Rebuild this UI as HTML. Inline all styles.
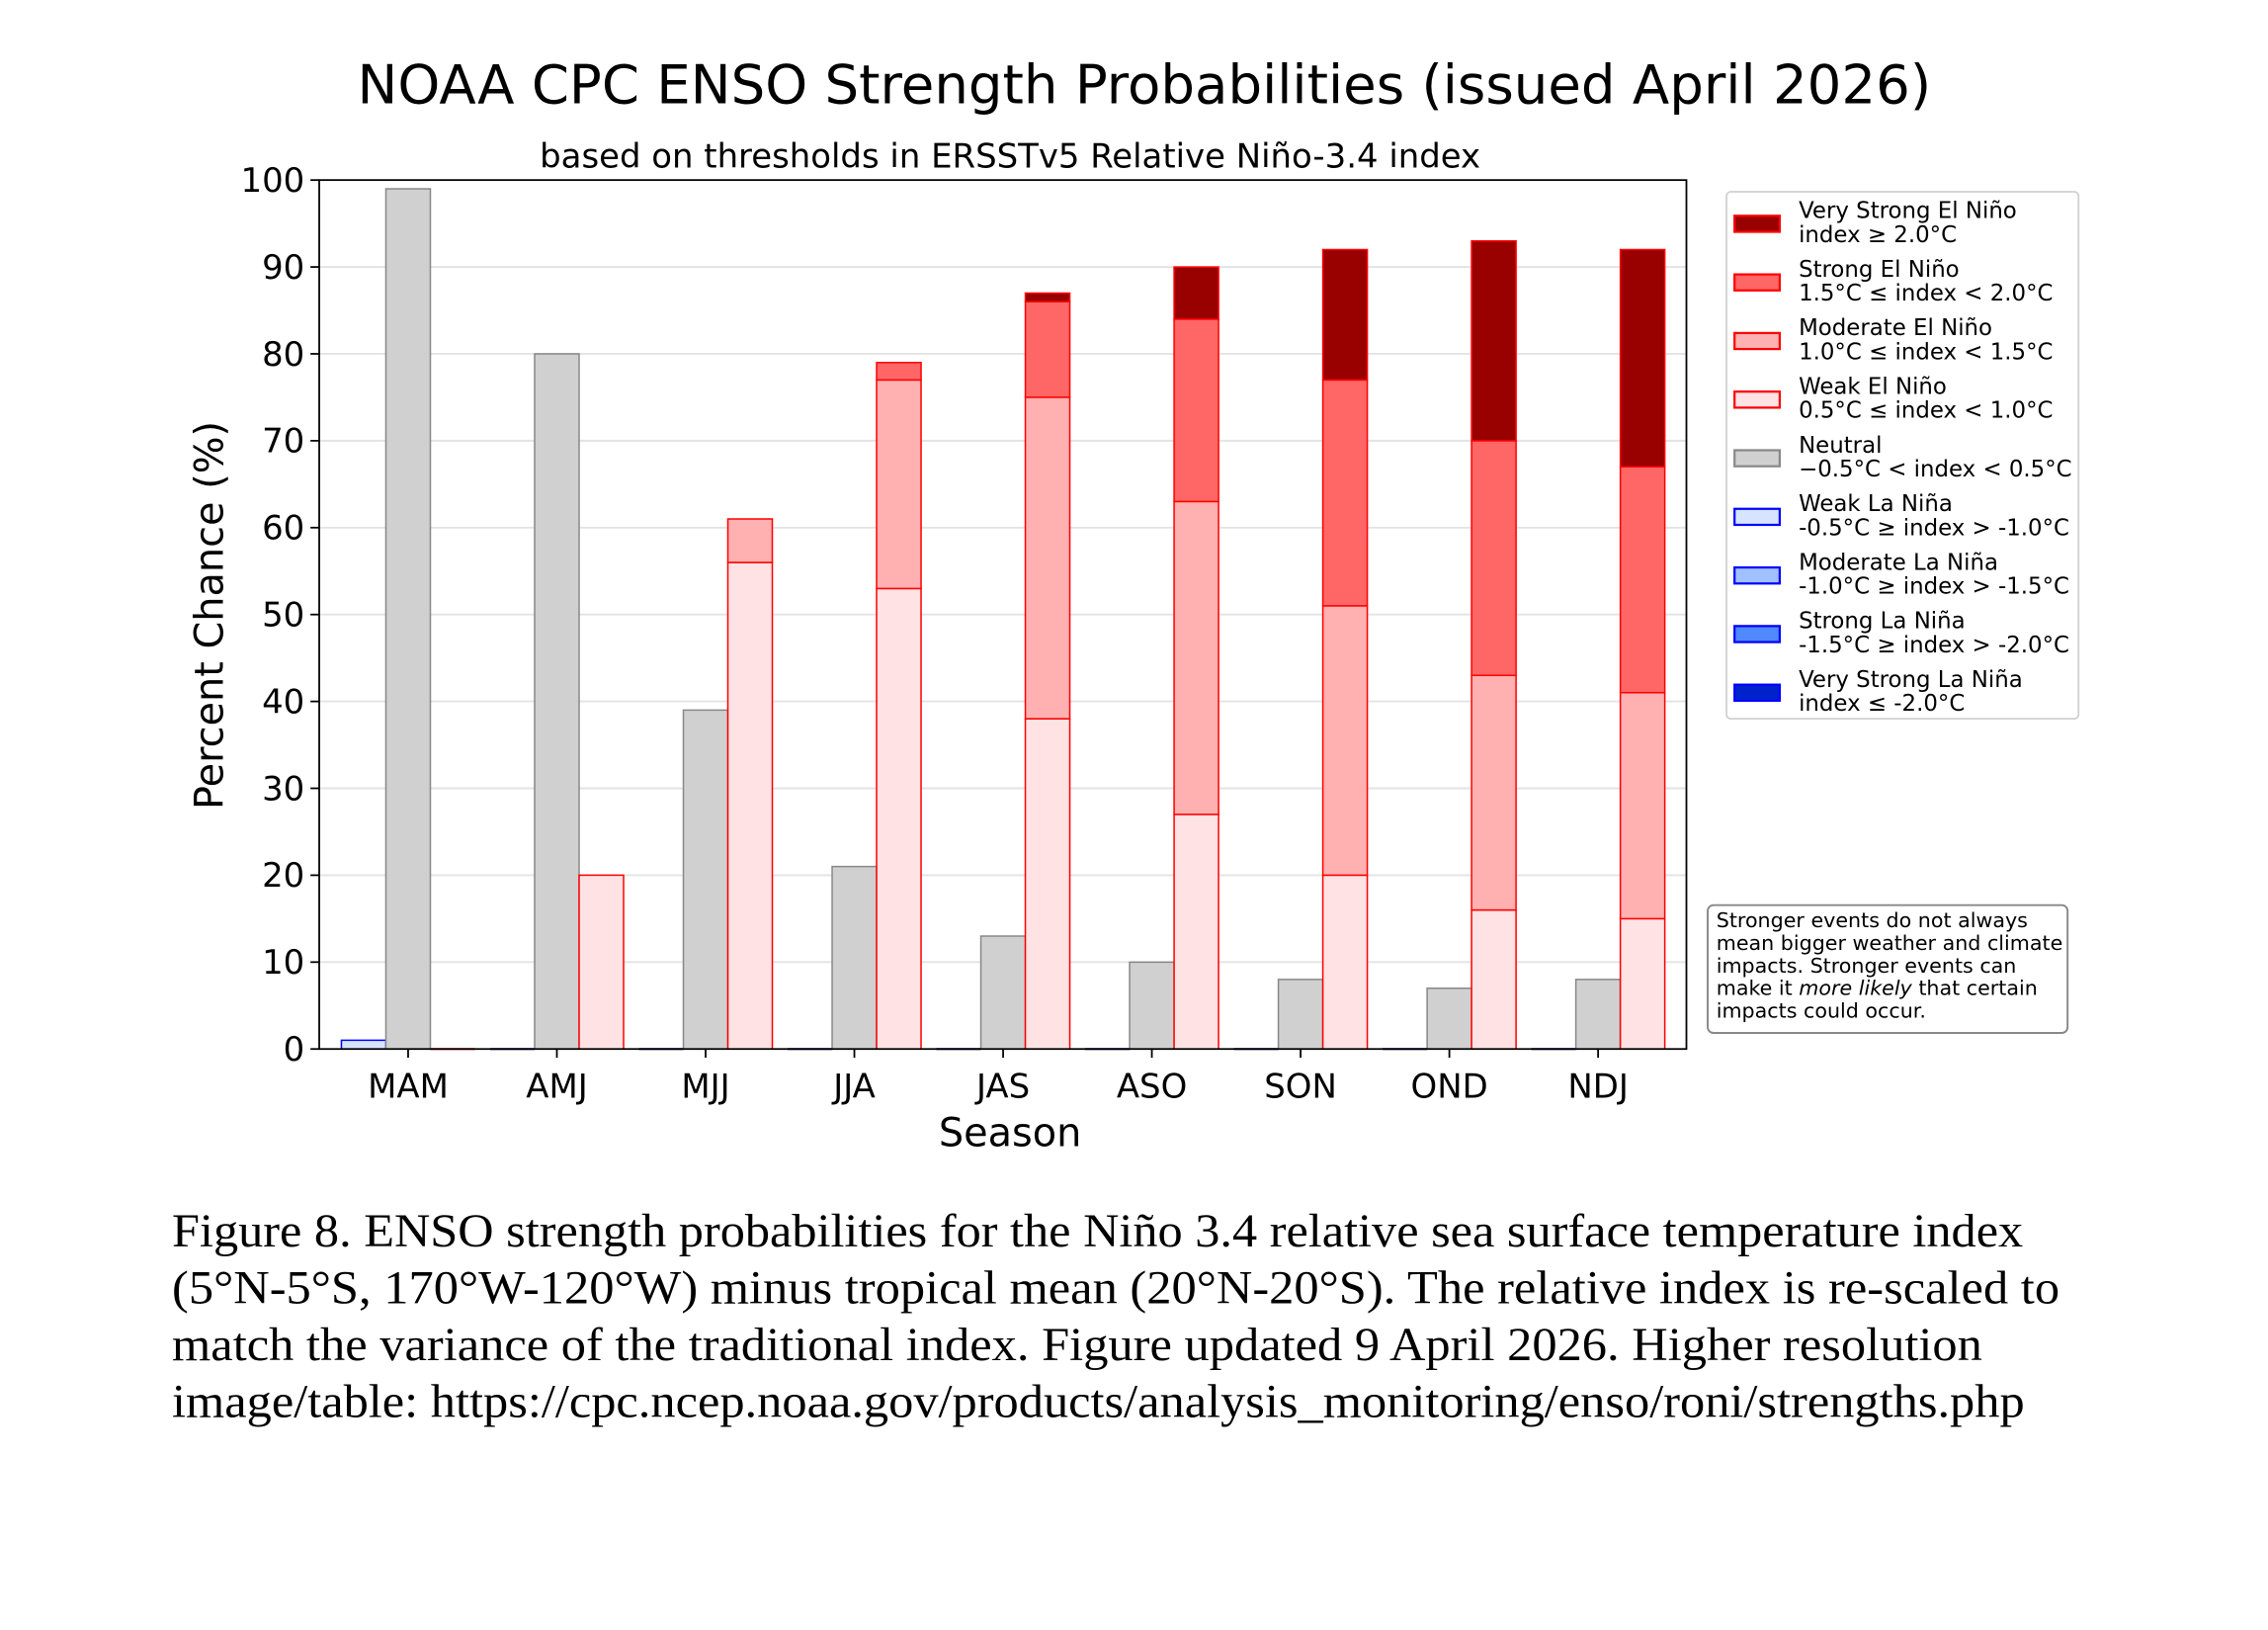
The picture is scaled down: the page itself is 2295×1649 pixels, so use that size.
<!DOCTYPE html>
<html><head><meta charset="utf-8"><style>
html,body{margin:0;padding:0;background:#fff;}
svg{display:block;}
</style></head><body>
<svg width="2295" height="1649" viewBox="0 0 1556 1118" xmlns="http://www.w3.org/2000/svg" font-family="'DejaVu Sans', 'Liberation Sans', sans-serif">
<rect width="1556" height="1118" fill="#fff"/>
<text x="785" y="71" font-size="37" text-anchor="middle" fill="#000">NOAA CPC ENSO Strength Probabilities (issued April 2026)</text>
<text x="693" y="115" font-size="23" text-anchor="middle" fill="#000">based on thresholds in ERSSTv5 Relative Niño-3.4 index</text>
<g stroke="#e3e3e3" stroke-width="1.3">
<line x1="219" x2="1157" y1="659.9" y2="659.9"/><line x1="219" x2="1157" y1="600.3" y2="600.3"/>
<line x1="219" x2="1157" y1="540.7" y2="540.7"/><line x1="219" x2="1157" y1="481.1" y2="481.1"/>
<line x1="219" x2="1157" y1="421.5" y2="421.5"/><line x1="219" x2="1157" y1="361.9" y2="361.9"/>
<line x1="219" x2="1157" y1="302.3" y2="302.3"/><line x1="219" x2="1157" y1="242.7" y2="242.7"/>
<line x1="219" x2="1157" y1="183.1" y2="183.1"/>
</g>
<g transform="translate(280,719.5) scale(102.05,-5.96)">
<g stroke-width="1.5" style="vector-effect:non-scaling-stroke">
<rect x="-0.4485" y="0" width="0.299" height="1" fill="#d6e4ff" stroke="#0000ff" vector-effect="non-scaling-stroke"/>
<g stroke="#000080" stroke-width="2">
<line x1="0.5515" x2="0.8505" y1="0" y2="0" vector-effect="non-scaling-stroke"/>
<line x1="1.5515" x2="1.8505" y1="0" y2="0" vector-effect="non-scaling-stroke"/>
<line x1="2.5515" x2="2.8505" y1="0" y2="0" vector-effect="non-scaling-stroke"/>
<line x1="3.5515" x2="3.8505" y1="0" y2="0" vector-effect="non-scaling-stroke"/>
<line x1="4.5515" x2="4.8505" y1="0" y2="0" vector-effect="non-scaling-stroke"/>
<line x1="5.5515" x2="5.8505" y1="0" y2="0" vector-effect="non-scaling-stroke"/>
<line x1="6.5515" x2="6.8505" y1="0" y2="0" vector-effect="non-scaling-stroke"/>
<line x1="7.5515" x2="7.8505" y1="0" y2="0" vector-effect="non-scaling-stroke"/>
</g>
<line x1="0.1495" x2="0.4485" y1="0" y2="0" stroke="#ff0000" stroke-width="2" vector-effect="non-scaling-stroke"/>
<g fill="#d0d0d0" stroke="#888" stroke-width="1.5">
<rect x="-0.1495" y="0" width="0.299" height="99" vector-effect="non-scaling-stroke"/>
<rect x="0.8505" y="0" width="0.299" height="80" vector-effect="non-scaling-stroke"/>
<rect x="1.8505" y="0" width="0.299" height="39" vector-effect="non-scaling-stroke"/>
<rect x="2.8505" y="0" width="0.299" height="21" vector-effect="non-scaling-stroke"/>
<rect x="3.8505" y="0" width="0.299" height="13" vector-effect="non-scaling-stroke"/>
<rect x="4.8505" y="0" width="0.299" height="10" vector-effect="non-scaling-stroke"/>
<rect x="5.8505" y="0" width="0.299" height="8" vector-effect="non-scaling-stroke"/>
<rect x="6.8505" y="0" width="0.299" height="7" vector-effect="non-scaling-stroke"/>
<rect x="7.8505" y="0" width="0.299" height="8" vector-effect="non-scaling-stroke"/>
</g>
<g stroke="#ff0000" stroke-width="1.5">
<rect x="1.1495" y="0" width="0.299" height="20" fill="#ffe2e4" vector-effect="non-scaling-stroke"/>
<rect x="2.1495" y="0" width="0.299" height="56" fill="#ffe2e4" vector-effect="non-scaling-stroke"/>
<rect x="2.1495" y="56" width="0.299" height="5" fill="#ffb0b0" vector-effect="non-scaling-stroke"/>
<rect x="3.1495" y="0" width="0.299" height="53" fill="#ffe2e4" vector-effect="non-scaling-stroke"/>
<rect x="3.1495" y="53" width="0.299" height="24" fill="#ffb0b0" vector-effect="non-scaling-stroke"/>
<rect x="3.1495" y="77" width="0.299" height="2" fill="#ff6666" vector-effect="non-scaling-stroke"/>
<rect x="4.1495" y="0" width="0.299" height="38" fill="#ffe2e4" vector-effect="non-scaling-stroke"/>
<rect x="4.1495" y="38" width="0.299" height="37" fill="#ffb0b0" vector-effect="non-scaling-stroke"/>
<rect x="4.1495" y="75" width="0.299" height="11" fill="#ff6666" vector-effect="non-scaling-stroke"/>
<rect x="4.1495" y="86" width="0.299" height="1" fill="#990000" vector-effect="non-scaling-stroke"/>
<rect x="5.1495" y="0" width="0.299" height="27" fill="#ffe2e4" vector-effect="non-scaling-stroke"/>
<rect x="5.1495" y="27" width="0.299" height="36" fill="#ffb0b0" vector-effect="non-scaling-stroke"/>
<rect x="5.1495" y="63" width="0.299" height="21" fill="#ff6666" vector-effect="non-scaling-stroke"/>
<rect x="5.1495" y="84" width="0.299" height="6" fill="#990000" vector-effect="non-scaling-stroke"/>
<rect x="6.1495" y="0" width="0.299" height="20" fill="#ffe2e4" vector-effect="non-scaling-stroke"/>
<rect x="6.1495" y="20" width="0.299" height="31" fill="#ffb0b0" vector-effect="non-scaling-stroke"/>
<rect x="6.1495" y="51" width="0.299" height="26" fill="#ff6666" vector-effect="non-scaling-stroke"/>
<rect x="6.1495" y="77" width="0.299" height="15" fill="#990000" vector-effect="non-scaling-stroke"/>
<rect x="7.1495" y="0" width="0.299" height="16" fill="#ffe2e4" vector-effect="non-scaling-stroke"/>
<rect x="7.1495" y="16" width="0.299" height="27" fill="#ffb0b0" vector-effect="non-scaling-stroke"/>
<rect x="7.1495" y="43" width="0.299" height="27" fill="#ff6666" vector-effect="non-scaling-stroke"/>
<rect x="7.1495" y="70" width="0.299" height="23" fill="#990000" vector-effect="non-scaling-stroke"/>
<rect x="8.1495" y="0" width="0.299" height="15" fill="#ffe2e4" vector-effect="non-scaling-stroke"/>
<rect x="8.1495" y="15" width="0.299" height="26" fill="#ffb0b0" vector-effect="non-scaling-stroke"/>
<rect x="8.1495" y="41" width="0.299" height="26" fill="#ff6666" vector-effect="non-scaling-stroke"/>
<rect x="8.1495" y="67" width="0.299" height="25" fill="#990000" vector-effect="non-scaling-stroke"/>
</g>
</g>
</g>
<rect x="219" y="123.5" width="938" height="596" fill="none" stroke="#000" stroke-width="1.2"/>
<g font-size="23" text-anchor="end" fill="#000">
<text x="209" y="727.5">0</text><text x="209" y="667.9">10</text><text x="209" y="608.3">20</text><text x="209" y="548.7">30</text><text x="209" y="489.1">40</text><text x="209" y="429.5">50</text><text x="209" y="369.9">60</text><text x="209" y="310.3">70</text><text x="209" y="250.7">80</text><text x="209" y="191.1">90</text><text x="209" y="131.5">100</text>
</g>
<g stroke="#000" stroke-width="1.2">
<line x1="213" x2="219" y1="719.5" y2="719.5"/><line x1="213" x2="219" y1="659.9" y2="659.9"/><line x1="213" x2="219" y1="600.3" y2="600.3"/><line x1="213" x2="219" y1="540.7" y2="540.7"/><line x1="213" x2="219" y1="481.1" y2="481.1"/><line x1="213" x2="219" y1="421.5" y2="421.5"/><line x1="213" x2="219" y1="361.9" y2="361.9"/><line x1="213" x2="219" y1="302.3" y2="302.3"/><line x1="213" x2="219" y1="242.7" y2="242.7"/><line x1="213" x2="219" y1="183.1" y2="183.1"/><line x1="213" x2="219" y1="123.5" y2="123.5"/>
<line x1="280" x2="280" y1="719.5" y2="725.5"/><line x1="382.05" x2="382.05" y1="719.5" y2="725.5"/><line x1="484.1" x2="484.1" y1="719.5" y2="725.5"/><line x1="586.15" x2="586.15" y1="719.5" y2="725.5"/><line x1="688.2" x2="688.2" y1="719.5" y2="725.5"/><line x1="790.25" x2="790.25" y1="719.5" y2="725.5"/><line x1="892.3" x2="892.3" y1="719.5" y2="725.5"/><line x1="994.35" x2="994.35" y1="719.5" y2="725.5"/><line x1="1096.4" x2="1096.4" y1="719.5" y2="725.5"/>
</g>
<g font-size="23" text-anchor="middle" fill="#000">
<text x="280" y="753">MAM</text><text x="382.05" y="753">AMJ</text><text x="484.1" y="753">MJJ</text><text x="586.15" y="753">JJA</text><text x="688.2" y="753">JAS</text><text x="790.25" y="753">ASO</text><text x="892.3" y="753">SON</text><text x="994.35" y="753">OND</text><text x="1096.4" y="753">NDJ</text>
</g>
<text x="693" y="786" font-size="27" text-anchor="middle">Season</text>
<text transform="translate(153,422) rotate(-90)" font-size="27" text-anchor="middle">Percent Chance (%)</text>
<!-- legend -->
<rect x="1184.5" y="131.5" width="241.5" height="361.5" rx="3" fill="#fff" stroke="#d0d0d0" stroke-width="1.2"/>
<g stroke-width="1.5">
<rect x="1190" y="148" width="31" height="11" fill="#990000" stroke="#ff0000"/>
<rect x="1190" y="188.2" width="31" height="11" fill="#ff6666" stroke="#ff0000"/>
<rect x="1190" y="228.4" width="31" height="11" fill="#ffb0b0" stroke="#ff0000"/>
<rect x="1190" y="268.6" width="31" height="11" fill="#ffe2e4" stroke="#ff0000"/>
<rect x="1190" y="308.8" width="31" height="11" fill="#d0d0d0" stroke="#888"/>
<rect x="1190" y="349" width="31" height="11" fill="#d6e4ff" stroke="#0000ff"/>
<rect x="1190" y="389.2" width="31" height="11" fill="#a0c0ff" stroke="#0000ff"/>
<rect x="1190" y="429.4" width="31" height="11" fill="#5088ff" stroke="#0000ff"/>
<rect x="1190" y="469.6" width="31" height="11" fill="#0022cc" stroke="#0000ff"/>
</g>
<g font-size="15.5" fill="#000">
<text x="1234" y="149.6">Very Strong El Niño</text><text x="1234" y="166">index ≥ 2.0°C</text>
<text x="1234" y="189.8">Strong El Niño</text><text x="1234" y="206.2">1.5°C ≤ index &lt; 2.0°C</text>
<text x="1234" y="230">Moderate El Niño</text><text x="1234" y="246.4">1.0°C ≤ index &lt; 1.5°C</text>
<text x="1234" y="270.2">Weak El Niño</text><text x="1234" y="286.6">0.5°C ≤ index &lt; 1.0°C</text>
<text x="1234" y="310.4">Neutral</text><text x="1234" y="326.8">−0.5°C &lt; index &lt; 0.5°C</text>
<text x="1234" y="350.6">Weak La Niña</text><text x="1234" y="367">-0.5°C ≥ index &gt; -1.0°C</text>
<text x="1234" y="390.8">Moderate La Niña</text><text x="1234" y="407.2">-1.0°C ≥ index &gt; -1.5°C</text>
<text x="1234" y="431">Strong La Niña</text><text x="1234" y="447.4">-1.5°C ≥ index &gt; -2.0°C</text>
<text x="1234" y="471.2">Very Strong La Niña</text><text x="1234" y="487.6">index ≤ -2.0°C</text>
</g>
<rect x="1171.6" y="620.8" width="246.9" height="87.7" rx="4" fill="#fff" stroke="#888" stroke-width="1.3"/>
<g font-size="14" fill="#000">
<text x="1177.5" y="636">Stronger events do not always</text>
<text x="1177.5" y="651.5">mean bigger weather and climate</text>
<text x="1177.5" y="667">impacts. Stronger events can</text>
<text x="1177.5" y="682.5">make it <tspan font-style="italic">more likely</tspan> that certain</text>
<text x="1177.5" y="698">impacts could occur.</text>
</g>
<g font-family="'Liberation Serif', serif" font-size="32" fill="#000">
<text x="118" y="855" textLength="1270" lengthAdjust="spacingAndGlyphs">Figure 8. ENSO strength probabilities for the Niño 3.4 relative sea surface temperature index</text>
<text x="118" y="894" textLength="1295" lengthAdjust="spacingAndGlyphs">(5°N-5°S, 170°W-120°W) minus tropical mean (20°N-20°S). The relative index is re-scaled to</text>
<text x="118" y="933" textLength="1242" lengthAdjust="spacingAndGlyphs">match the variance of the traditional index. Figure updated 9 April 2026. Higher resolution</text>
<text x="118" y="972" textLength="1271" lengthAdjust="spacingAndGlyphs">image/table: https://cpc.ncep.noaa.gov/products/analysis_monitoring/enso/roni/strengths.php</text>
</g>
</svg>
</body></html>
